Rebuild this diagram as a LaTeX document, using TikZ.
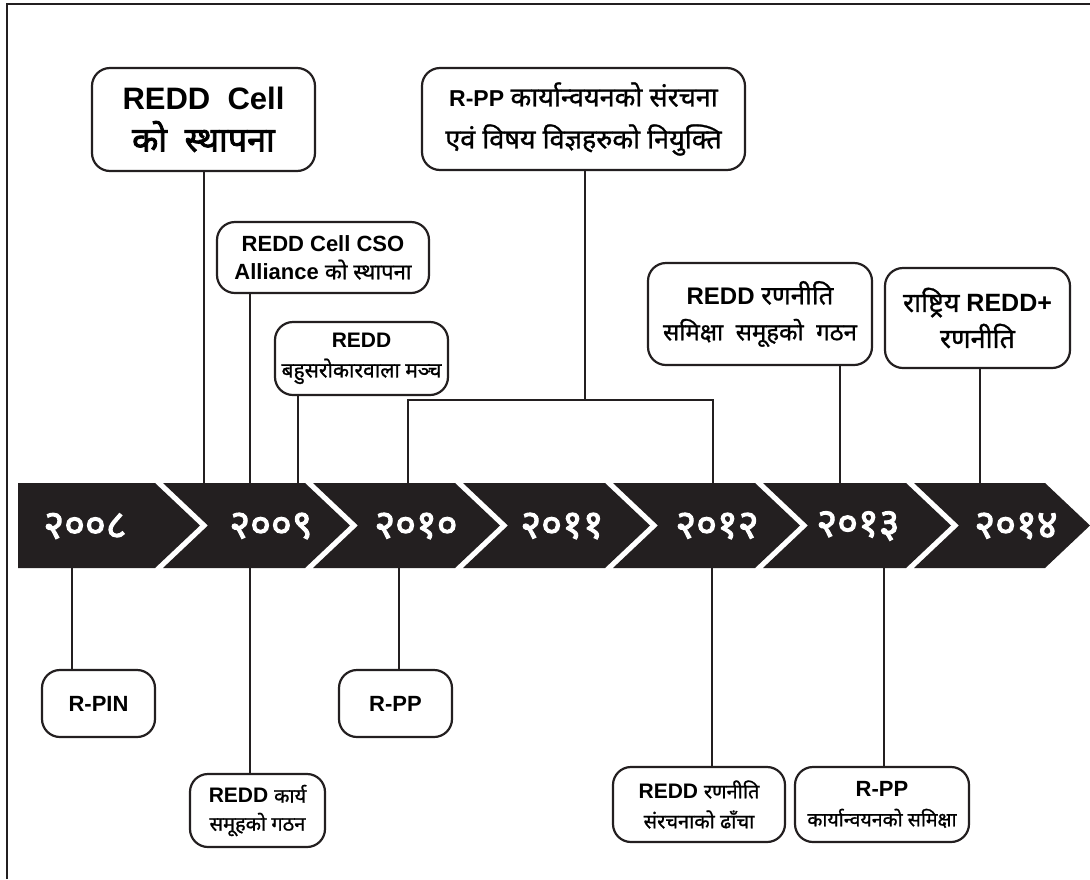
\documentclass[tikz,border=0pt]{standalone}
\usepackage{fontspec}
\setmainfont{Liberation Sans}
\newfontfamily\devfont[Script=Devanagari, FakeBold=1]{Noto Sans}
\newfontfamily\devbf[Script=Devanagari, FakeBold=2.5]{Noto Sans}
\newcommand{\dev}[1]{{\devfont #1}}
\usetikzlibrary{positioning, calc}
\definecolor{bandgray}{RGB}{35,31,32}

\begin{document}
\begin{tikzpicture}[x=1pt, y=-1pt,
    event/.style={rectangle, draw=bandgray, line width=2.2pt, rounded corners=18pt, align=center, inner sep=1pt},
    link/.style={draw=bandgray, line width=2.2pt},
    year/.style={text=white, font=\devbf\fontsize{40}{40}\selectfont}
  ]
  \useasboundingbox (0,0) rectangle (1090,879);

  % frame
  \draw[link] (7,879) -- (7,4) -- (1090,4);

  % time band
  \fill[bandgray] (18,483) -- (155,483) -- (200,525.5) -- (155,568) -- (18,568) -- cycle;
  \foreach \a/\b in {200/350, 350/500, 500/650, 650/800, 800/951, 951/1090}
    \fill[bandgray] ({\a-37},483) -- ({\a+8},525.5) -- ({\a-37},568) -- ({\b-45},568) -- (\b,525.5) -- ({\b-45},483) -- cycle;

  \node[year] (y08) at (85,526) {२००८};
  \node[year] (y09) at (271,526) {२००९};
  \node[year] (y10) at (416,526) {२०१०};
  \node[year] (y11) at (562,526) {२०११};
  \node[year] (y12) at (717,526) {२०१२};
  \node[year] (y13) at (858,526) {२०१३};
  \node[year] (y14) at (1016,526) {२०१४};

  % events above
  \node[event, minimum width=223pt, minimum height=103pt, font=\fontsize{31}{42}\selectfont] (cell) at (203.5,119.5)
    {\bfseries REDD\ \ Cell\\{\devbf\fontsize{34}{42}\selectfont को\ \ स्थापना}};
  \node[event, minimum width=323pt, minimum height=102pt, font=\fontsize{23}{42}\selectfont] (rppimpl) at (583.5,119)
    {\bfseries R-PP \dev{\mdseries\fontsize{27}{42}\selectfont कार्यान्वयनको संरचना}\\\dev{\fontsize{27}{42}\selectfont एवं\ विषय\ विज्ञहरुको\ नियुक्ति}};
  \node[event, minimum width=212pt, minimum height=71pt, font=\fontsize{22}{28}\selectfont] (alliance) at (323,257.5)
    {\bfseries REDD Cell CSO\\\bfseries Alliance \dev{\mdseries\fontsize{22}{28}\selectfont को स्थापना}};
  \node[event, minimum width=173pt, minimum height=73pt, font=\fontsize{21}{30}\selectfont] (forum) at (361.5,358.5)
    {\bfseries REDD\\\dev{\fontsize{21}{30}\selectfont बहुसरोकारवाला मञ्च}};
  \node[event, minimum width=224pt, minimum height=102pt, font=\fontsize{24}{36}\selectfont] (review) at (760,314)
    {\bfseries REDD \dev{\mdseries\fontsize{26}{36}\selectfont रणनीति}\\\dev{\fontsize{24}{36}\selectfont समिक्षा\ \ समूहको\ \ गठन}};
  \node[event, minimum width=185pt, minimum height=100pt, font=\fontsize{25}{36}\selectfont] (national) at (977.5,318)
    {\dev{\fontsize{27}{36}\selectfont राष्ट्रिय} \bfseries REDD+\\\dev{\fontsize{27}{36}\selectfont रणनीति}};

  % events below
  \node[event, minimum width=113pt, minimum height=67pt, font=\bfseries\fontsize{22}{24}\selectfont] (rpin) at (98.5,703.5) {R-PIN};
  \node[event, minimum width=113pt, minimum height=67pt, font=\bfseries\fontsize{22}{24}\selectfont] (rpp) at (395.5,703.5) {R-PP};
  \node[event, minimum width=135pt, minimum height=73pt, font=\fontsize{21}{28}\selectfont] (group) at (257.5,810.5)
    {\bfseries REDD \dev{\mdseries\fontsize{20}{28}\selectfont कार्य}\\\dev{\fontsize{20}{28}\selectfont समूहको गठन}};
  \node[event, minimum width=172pt, minimum height=75pt, font=\fontsize{21}{30}\selectfont] (draft) at (699,804.5)
    {\bfseries REDD \dev{\mdseries\fontsize{20}{30}\selectfont रणनीति}\\\dev{\fontsize{20}{30}\selectfont संरचनाको ढाँचा}};
  \node[event, minimum width=174pt, minimum height=75pt, font=\fontsize{22}{30}\selectfont] (rppreview) at (882,804.5)
    {\bfseries R-PP\\\dev{\fontsize{19.5}{30}\selectfont कार्यान्वयनको समिक्षा}};

  % tick points on the band
  \coordinate (t08) at (204,483);
  \coordinate (t09) at (250,483);
  \coordinate (t09b) at (298,483);
  \coordinate (t10) at (408,483);
  \coordinate (t12) at (713,483);
  \coordinate (t13) at (840,483);
  \coordinate (t14) at (980,483);
  \coordinate (b08) at (72,568);
  \coordinate (b09) at (250,568);
  \coordinate (b10) at (399,568);
  \coordinate (b12) at (712,568);
  \coordinate (b13) at (884,568);
  \coordinate (fork) at (585,400);

  \draw[link] (t08) -- (t08 |- cell.south);
  \draw[link] (t09) -- (t09 |- alliance.south);
  \draw[link] (t09b) -- (t09b |- forum.south);
  \draw[link] (fork |- rppimpl.south) -- (fork);
  \draw[link] (t10) -- (t10 |- fork) -| (t12);
  \draw[link] (t13) -- (t13 |- review.south);
  \draw[link] (t14) -- (t14 |- national.south);

  \draw[link] (b08) -- (b08 |- rpin.north);
  \draw[link] (b09) -- (b09 |- group.north);
  \draw[link] (b10) -- (b10 |- rpp.north);
  \draw[link] (b12) -- (b12 |- draft.north);
  \draw[link] (b13) -- (b13 |- rppreview.north);
\end{tikzpicture}
\end{document}
